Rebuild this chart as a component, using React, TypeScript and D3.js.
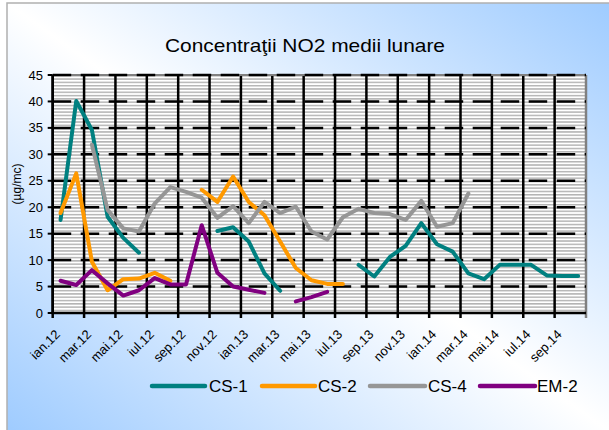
import React from "react";
import * as d3 from "d3";

const categories = [
  "ian.12","feb.12","mar.12","apr.12","mai.12","iun.12","iul.12","aug.12","sep.12","oct.12","nov.12","dec.12",
  "ian.13","feb.13","mar.13","apr.13","mai.13","iun.13","iul.13","aug.13","sep.13","oct.13","nov.13","dec.13",
  "ian.14","feb.14","mar.14","apr.14","mai.14","iun.14","iul.14","aug.14","sep.14","oct.14",
];

const cs1: (number | null)[] = [
  17.6, 40.1, 34.6, 18.2, 14.2, 11.4, null, null, null, null, 15.5, 16.2,
  13.5, 7.5, 4.2, null, null, null, null, 9.1, 6.9, 10.6, 12.7, 17.0,
  13.0, 11.6, 7.5, 6.4, 9.1, 9.1, 9.1, 7.1, 7.0, 7.0,
];
const cs2: (number | null)[] = [
  18.9, 26.4, 9.7, 4.3, 6.4, 6.5, 7.6, 6.1, null, 23.3, 21.0, 25.8,
  21.0, 18.5, 13.5, 8.5, 6.2, 5.5, 5.5, null, null, null, null, null,
  null, null, null, null, null, null, null, null, null, null,
];
const cs4: (number | null)[] = [
  null, null, 31.8, 19.5, 16.0, 15.4, 20.7, 23.8, 22.9, 21.8, 18.0, 20.2,
  17.0, 21.0, 18.9, 20.1, 15.4, 13.9, 18.1, 19.7, 18.9, 18.7, 17.6, 21.2,
  16.3, 17.0, 22.6, null, null, null, null, null, null, null,
];
const em2: (number | null)[] = [
  6.1, 5.3, 8.1, 5.6, 3.3, 4.3, 6.6, 5.4, 5.4, 16.6, 7.6, 5.0,
  4.4, 3.8, null, 2.2, 3.0, 4.0, null, null, null, null, null, null,
  null, null, null, null, null, null, null, null, null, null,
];

const seriesNames = ["CS-1", "CS-2", "CS-4", "EM-2"];
const seriesColors = ["#008080", "#FF9900", "#969696", "#800080"];
const seriesData = [cs1, cs2, cs4, em2];
const yTicks = [0, 5, 10, 15, 20, 25, 30, 35, 40, 45];
const title = "Concentraţii NO2 medii lunare";
const yTitle = "(µg/mc)";

const W = 609;
const H = 430;
const left = 52.7;
const right = 586;
const top = 75;
const bottom = 313;

export default function App() {
  const x = d3.scaleBand<string>().domain(categories).range([left, right]).padding(0);
  const bw = x.bandwidth();
  const cx = (c: string) => (x(c) as number) + bw / 2;
  const y = d3.scaleLinear().domain([0, 45]).range([bottom, top]);

  const line = d3
    .line<number | null>()
    .defined((d) => d !== null)
    .x((_, i) => cx(categories[i]))
    .y((d) => y(d as number));

  const gridX = categories.map((_, i) => i).filter((i) => i % 2 === 0).map((i) => x(categories[i]) as number);
  gridX.push(right);
  const labelCats = categories.filter((_, i) => i % 2 === 0);
  const stripe = (y(0) - y(5)) / 8;

  const legendItems = [
    { x1: 152, x2: 205, tx: 209 },
    { x1: 262, x2: 315, tx: 318 },
    { x1: 370, x2: 425, tx: 428 },
    { x1: 480, x2: 535, tx: 537 },
  ];
  const legendY = 386;

  return (
    <div style={{ position: "absolute", left: 0, top: 0 }}>
      <svg width={W} height={H} style={{ display: "block", fontFamily: "'Liberation Sans', Arial, sans-serif" }}>
        <defs>
          <linearGradient id="bg" x1="0" y1="1" x2="1" y2="0">
            <stop offset="0" stopColor="#9ccaff" />
            <stop offset="0.5" stopColor="#ffffff" />
            <stop offset="1" stopColor="#9ccaff" />
          </linearGradient>
          <pattern id="stripes" patternUnits="userSpaceOnUse" x={0} y={top} width={8} height={stripe}>
            <rect x={0} y={0} width={8} height={stripe} fill="#ffffff" />
            <rect x={0} y={0} width={8} height={1.5} fill="#b4b4b4" />
          </pattern>
        </defs>
        <rect x={0} y={0} width={W} height={H} fill="#ffffff" />
        <rect x={7} y={3} width={W + 10} height={H + 10} fill="url(#bg)" stroke="#b0b0b0" strokeWidth={1.5} />

        <text x={305} y={52} textAnchor="middle" fontSize={19} textLength={280} lengthAdjust="spacingAndGlyphs" fill="#000">{title}</text>

        <rect x={left} y={top} width={right - left} height={bottom - top} fill="url(#stripes)" />

        {gridX.map((gx, i) => (
          <line key={"vx" + i} x1={gx} x2={gx} y1={top} y2={bottom + 5} stroke={i === gridX.length - 1 ? "#808080" : "#000"} strokeWidth={2.5} />
        ))}
        <line x1={left} x2={right} y1={top} y2={top} stroke="#808080" strokeWidth={2} />
        {yTicks.filter((t) => t > 0).map((t) => (
          <line key={"hy" + t} x1={left} x2={right} y1={y(t)} y2={y(t)} stroke="#000" strokeWidth={2.5} strokeDasharray="18.5,9.5" />
        ))}
        <line x1={left} x2={left} y1={top} y2={bottom} stroke="#000" strokeWidth={2.5} />
        <line x1={left - 1.2} x2={right} y1={bottom} y2={bottom} stroke="#000" strokeWidth={2.5} />
        {yTicks.map((t) => (
          <g key={"yt" + t}>
            <line x1={left - 5} x2={left} y1={y(t)} y2={y(t)} stroke="#000" strokeWidth={2} />
            <text x={43} y={y(t)} dy="0.35em" textAnchor="end" fontSize={13} fill="#000">{t}</text>
          </g>
        ))}
        <text transform={`translate(21,${(top + bottom) / 2 - 10}) rotate(-90)`} textAnchor="middle" fontSize={12} fill="#000">{yTitle}</text>

        {labelCats.map((c) => (
          <text key={"xl" + c} transform={`translate(${cx(c) - 3},${bottom + 19}) rotate(-45)`} textAnchor="end" dy="0.35em" fontSize={13} fill="#000">{c}</text>
        ))}

        {seriesData.map((d, i) => (
          <path key={"s" + i} d={line(d) || ""} fill="none" stroke={seriesColors[i]} strokeWidth={4} strokeLinejoin="round" strokeLinecap="round" />
        ))}

        {legendItems.map((li, i) => (
          <g key={"lg" + i}>
            <line x1={li.x1} x2={li.x2} y1={legendY} y2={legendY} stroke={seriesColors[i]} strokeWidth={4.5} strokeLinecap="round" />
            <text x={li.tx} y={legendY} dy="0.36em" fontSize={17} fill="#000">{seriesNames[i]}</text>
          </g>
        ))}
      </svg>
    </div>
  );
}
